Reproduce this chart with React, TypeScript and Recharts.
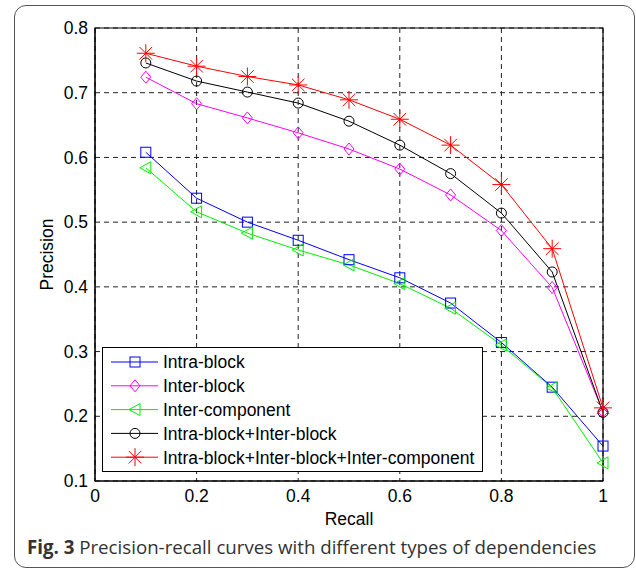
import {
  CartesianGrid,
  Legend,
  Line,
  LineChart,
  ReferenceArea,
  XAxis,
  YAxis,
} from "recharts";

const recall = [0.1, 0.2, 0.3, 0.4, 0.5, 0.6, 0.7, 0.8, 0.9, 1.0];
const intraBlock = [0.608, 0.537, 0.5, 0.472, 0.442, 0.414, 0.375, 0.314, 0.245, 0.154];
const interBlock = [0.724, 0.683, 0.661, 0.638, 0.613, 0.582, 0.542, 0.487, 0.399, 0.207];
const interComponent = [0.584, 0.516, 0.483, 0.457, 0.434, 0.405, 0.367, 0.31, 0.244, 0.128];
const intraInter = [0.746, 0.718, 0.701, 0.684, 0.656, 0.619, 0.575, 0.514, 0.423, 0.206];
const allDeps = [0.761, 0.741, 0.725, 0.712, 0.689, 0.659, 0.619, 0.558, 0.459, 0.213];

const xTicks = [0, 0.2, 0.4, 0.6, 0.8, 1];
const yTicks = [0.1, 0.2, 0.3, 0.4, 0.5, 0.6, 0.7, 0.8];

type Shape = "square" | "diamond" | "triangle" | "circle" | "star";

const series: { key: string; name: string; color: string; shape: Shape }[] = [
  { key: "intraBlock", name: "Intra-block", color: "#0000ff", shape: "square" },
  { key: "interBlock", name: "Inter-block", color: "#ff00ff", shape: "diamond" },
  { key: "interComponent", name: "Inter-component", color: "#00ee00", shape: "triangle" },
  { key: "intraInter", name: "Intra-block+Inter-block", color: "#000000", shape: "circle" },
  { key: "allDeps", name: "Intra-block+Inter-block+Inter-component", color: "#ff0000", shape: "star" },
];

const data = recall.map((r, i) => ({
  recall: r,
  intraBlock: intraBlock[i],
  interBlock: interBlock[i],
  interComponent: interComponent[i],
  intraInter: intraInter[i],
  allDeps: allDeps[i],
}));

const FONT = '"Liberation Sans", Arial, sans-serif';

function Marker({ shape, color, cx, cy }: { shape: Shape; color: string; cx: number; cy: number }) {
  const common = { fill: "none", stroke: color, strokeWidth: 1 };
  switch (shape) {
    case "square":
      return <rect x={cx - 5} y={cy - 5} width={10} height={10} {...common} />;
    case "diamond":
      return <polygon points={`${cx},${cy - 6} ${cx + 5},${cy} ${cx},${cy + 6} ${cx - 5},${cy}`} {...common} />;
    case "triangle":
      return <polygon points={`${cx - 6},${cy} ${cx + 5},${cy - 6} ${cx + 5},${cy + 6}`} {...common} />;
    case "circle":
      return <circle cx={cx} cy={cy} r={5} {...common} />;
    default: {
      const r = 9;
      const d = r * 0.7;
      return (
        <g {...common}>
          <line x1={cx - r} y1={cy} x2={cx + r} y2={cy} />
          <line x1={cx} y1={cy - r} x2={cx} y2={cy + r} />
          <line x1={cx - d} y1={cy - d} x2={cx + d} y2={cy + d} />
          <line x1={cx - d} y1={cy + d} x2={cx + d} y2={cy - d} />
        </g>
      );
    }
  }
}

function LegendBox() {
  return (
    <div style={{ width: 381, height: 125, border: "1px solid #000", background: "#fff", boxSizing: "border-box" }}>
      <svg width={379} height={123}>
        {series.map((s, i) => {
          const y = 14 + i * 23.8;
          return (
            <g key={s.key}>
              <line x1={8} y1={y} x2={55} y2={y} stroke={s.color} strokeWidth={1} />
              <Marker shape={s.shape} color={s.color} cx={32} cy={y} />
              <text x={60} y={y} dy="0.36em" fontSize={17.5} fontFamily={FONT} fill="#000">
                {s.name}
              </text>
            </g>
          );
        })}
      </svg>
    </div>
  );
}

export default function App() {
  return (
    <div style={{ position: "absolute", left: 0, top: 0, width: 636, height: 571, background: "#fff" }}>
      <div
        style={{
          position: "absolute",
          left: 14,
          top: 5,
          width: 621,
          height: 563,
          border: "1.5px solid #555",
          borderRadius: 12,
          boxSizing: "border-box",
        }}
      />
      <div style={{ position: "absolute", left: 0, top: 0 }}>
        <LineChart width={636} height={571} data={data} margin={{ top: 28, right: 33, bottom: 60, left: 45 }}>
          <CartesianGrid stroke="#222" strokeDasharray="5 4" strokeWidth={1} />
          <XAxis
            dataKey="recall"
            type="number"
            domain={[0, 1]}
            ticks={xTicks}
            tickFormatter={(v) => String(v)}
            height={30}
            tickSize={0}
            tickMargin={9}
            axisLine={{ stroke: "#000" }}
            tick={{ fill: "#000", fontSize: 17.5, fontFamily: FONT }}
            label={{
              content: ({ viewBox }: any) => (
                <text
                  x={viewBox.x + viewBox.width / 2}
                  y={viewBox.y + 44}
                  textAnchor="middle"
                  fontSize={17.5}
                  fontFamily={FONT}
                  fill="#000"
                >
                  Recall
                </text>
              ),
            }}
          />
          <YAxis
            type="number"
            domain={[0.1, 0.8]}
            ticks={yTicks}
            tickFormatter={(v) => String(v)}
            width={50}
            tickSize={0}
            tickMargin={7}
            axisLine={{ stroke: "#000" }}
            tick={{ fill: "#000", fontSize: 17.5, fontFamily: FONT }}
            label={{
              content: () => {
                const x = 47;
                const y = 28 + 453 / 2;
                return (
                  <text
                    x={x}
                    y={y}
                    dy="0.35em"
                    textAnchor="middle"
                    transform={`rotate(-90, ${x}, ${y})`}
                    fontSize={17.5}
                    fontFamily={FONT}
                    fill="#000"
                  >
                    Precision
                  </text>
                );
              },
            }}
          />
          <ReferenceArea x1={0} x2={1} y1={0.1} y2={0.8} fill="none" fillOpacity={0} stroke="#000" strokeWidth={1.2} />
          {series.map((s) => (
            <Line
              key={s.key}
              dataKey={s.key}
              name={s.name}
              stroke={s.color}
              strokeWidth={1}
              isAnimationActive={false}
              dot={(p: any) => (
                <Marker key={`${s.key}-${p.index}`} shape={s.shape} color={s.color} cx={p.cx} cy={p.cy} />
              )}
              activeDot={false}
            />
          ))}
          <Legend
            layout="vertical"
            align="center"
            verticalAlign="middle"
            content={() => <LegendBox />}
            wrapperStyle={{ left: 102, top: 347, width: 381, height: 125 }}
          />
        </LineChart>
      </div>
      <div
        style={{
          position: "absolute",
          left: 27,
          top: 534,
          fontFamily: '"Open Sans", sans-serif',
          fontSize: 18.7,
          color: "#333",
          whiteSpace: "nowrap",
        }}
      >
        <b>Fig. 3</b> Precision-recall curves with different types of dependencies
      </div>
    </div>
  );
}
